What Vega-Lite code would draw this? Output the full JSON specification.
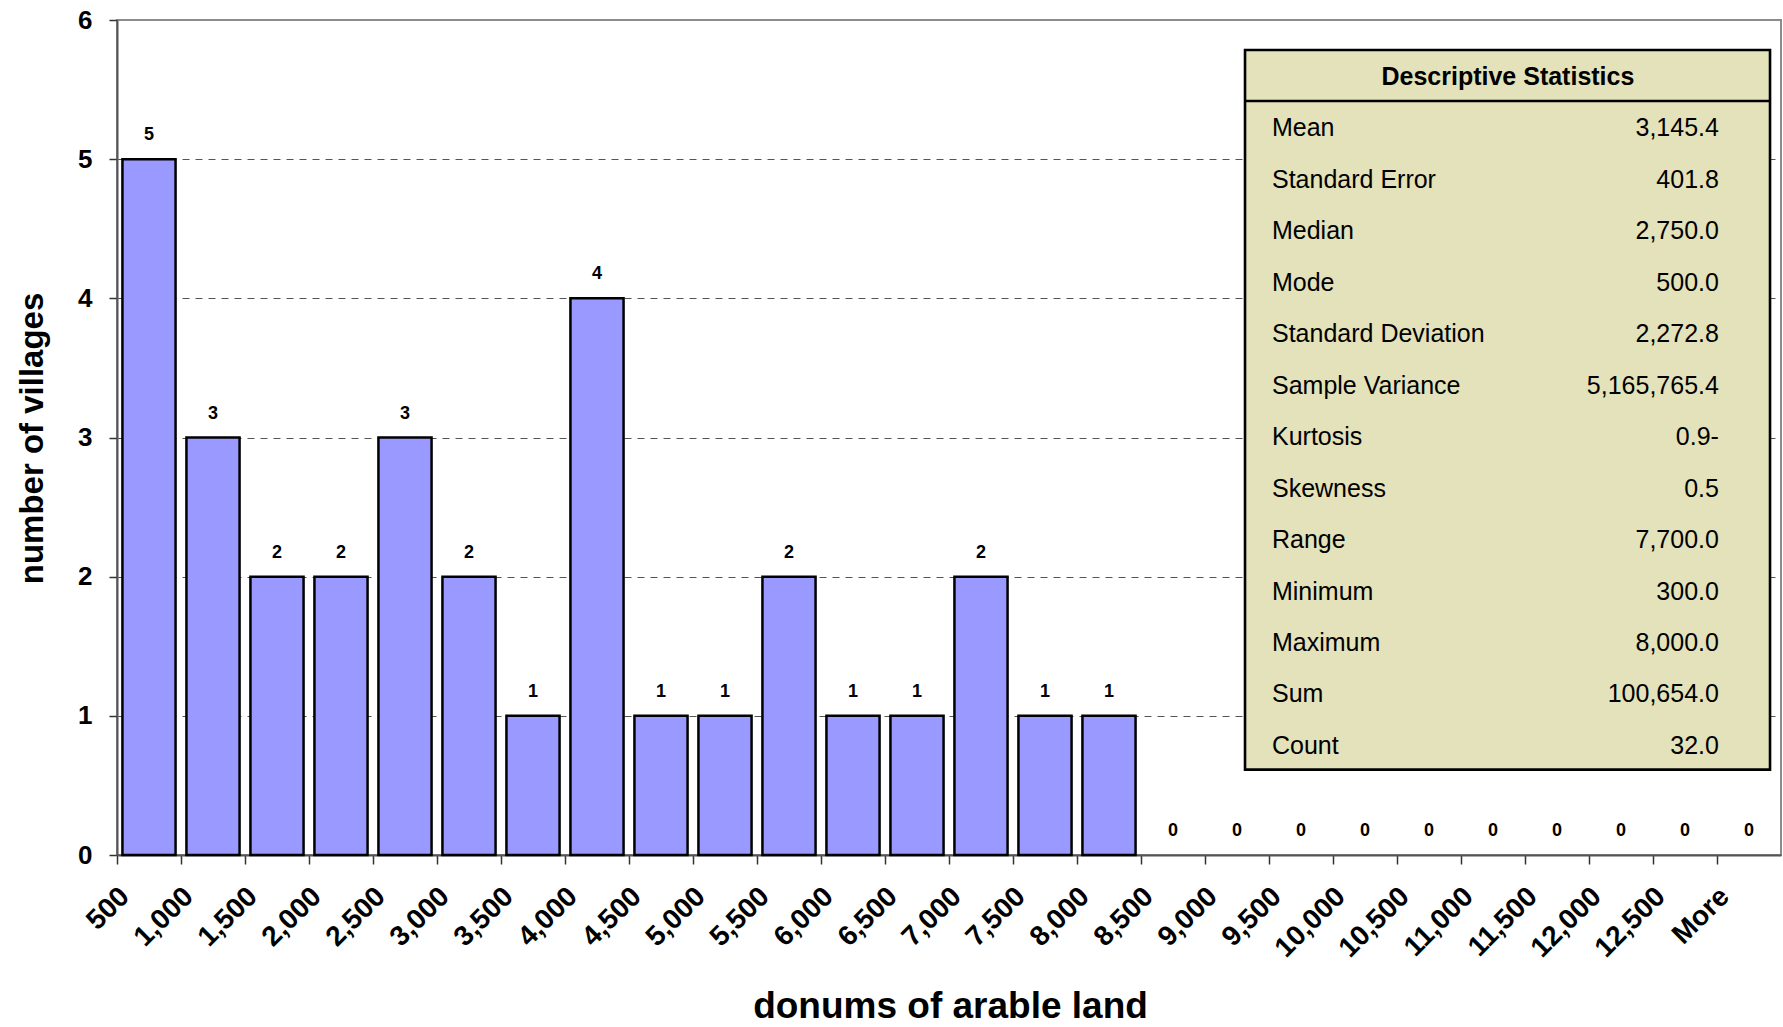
{
  "$schema": "https://vega.github.io/schema/vega-lite/v6.json",
  "width": 1664,
  "height": 835,
  "autosize": "none",
  "padding": {"left": 117, "top": 20, "right": 2, "bottom": 172},
  "background": "white",
  "config": {
    "font": "Liberation Sans",
    "view": {"stroke": "#8c8c8c", "strokeWidth": 2}
  },
  "datasets": {
    "hist": [
      {"bin": "500", "count": 5},
      {"bin": "1,000", "count": 3},
      {"bin": "1,500", "count": 2},
      {"bin": "2,000", "count": 2},
      {"bin": "2,500", "count": 3},
      {"bin": "3,000", "count": 2},
      {"bin": "3,500", "count": 1},
      {"bin": "4,000", "count": 4},
      {"bin": "4,500", "count": 1},
      {"bin": "5,000", "count": 1},
      {"bin": "5,500", "count": 2},
      {"bin": "6,000", "count": 1},
      {"bin": "6,500", "count": 1},
      {"bin": "7,000", "count": 2},
      {"bin": "7,500", "count": 1},
      {"bin": "8,000", "count": 1},
      {"bin": "8,500", "count": 0},
      {"bin": "9,000", "count": 0},
      {"bin": "9,500", "count": 0},
      {"bin": "10,000", "count": 0},
      {"bin": "10,500", "count": 0},
      {"bin": "11,000", "count": 0},
      {"bin": "11,500", "count": 0},
      {"bin": "12,000", "count": 0},
      {"bin": "12,500", "count": 0},
      {"bin": "More", "count": 0}
    ],
    "stats": [
      {"row": 1, "stat": "Mean", "value": "3,145.4"},
      {"row": 2, "stat": "Standard Error", "value": "401.8"},
      {"row": 3, "stat": "Median", "value": "2,750.0"},
      {"row": 4, "stat": "Mode", "value": "500.0"},
      {"row": 5, "stat": "Standard Deviation", "value": "2,272.8"},
      {"row": 6, "stat": "Sample Variance", "value": "5,165,765.4"},
      {"row": 7, "stat": "Kurtosis", "value": "0.9-"},
      {"row": 8, "stat": "Skewness", "value": "0.5"},
      {"row": 9, "stat": "Range", "value": "7,700.0"},
      {"row": 10, "stat": "Minimum", "value": "300.0"},
      {"row": 11, "stat": "Maximum", "value": "8,000.0"},
      {"row": 12, "stat": "Sum", "value": "100,654.0"},
      {"row": 13, "stat": "Count", "value": "32.0"}
    ]
  },
  "layer": [
    {
      "data": {"name": "hist"},
      "encoding": {
        "x": {
          "field": "bin",
          "type": "nominal",
          "sort": null,
          "scale": {"paddingInner": 0, "paddingOuter": 0},
          "axis": {
            "title": "donums of arable land",
            "titleFontSize": 37,
            "titleFontWeight": "bold",
            "titleColor": "black",
            "titleX": 833,
            "titleY": 162,
            "titleBaseline": "alphabetic",
            "titleAlign": "center",
            "labelAngle": -45,
            "labelAlign": "right",
            "labelBaseline": "middle",
            "labelFontSize": 28,
            "labelFontWeight": "bold",
            "labelColor": "black",
            "labelOffset": -24,
            "labelPadding": 28,
            "labelOverlap": false,
            "bandPosition": 0,
            "tickSize": 9,
            "tickColor": "#333333",
            "tickWidth": 1.5,
            "domainColor": "#555555",
            "domainWidth": 2,
            "grid": false
          }
        },
        "y": {
          "field": "count",
          "type": "quantitative",
          "scale": {"domain": [0, 6], "nice": false},
          "axis": {
            "title": "number of villages",
            "titleFontSize": 33,
            "titleFontWeight": "bold",
            "titleColor": "black",
            "titleAngle": -90,
            "titleX": -85,
            "titleY": 418,
            "titleBaseline": "middle",
            "titleAlign": "center",
            "values": [0, 1, 2, 3, 4, 5, 6],
            "format": "d",
            "labelFontSize": 26,
            "labelFontWeight": "bold",
            "labelColor": "black",
            "labelPadding": 17,
            "tickSize": 8,
            "tickColor": "#333333",
            "tickWidth": 1.5,
            "domainColor": "#555555",
            "domainWidth": 2,
            "grid": true,
            "gridColor": {"condition": {"test": "datum.value == 0 || datum.value == 6", "value": "rgba(0,0,0,0)"}, "value": "#555555"},
            "gridDash": [7, 6],
            "gridWidth": 1.2
          }
        }
      },
      "layer": [
        {
          "mark": {"type": "bar", "fill": "#9999ff", "stroke": "black", "width": {"band": 0.83}},
          "encoding": {
            "strokeWidth": {"condition": {"test": "datum.count > 0", "value": 2.5}, "value": 0}
          }
        },
        {
          "mark": {"type": "text", "dy": -19, "baseline": "alphabetic", "fontWeight": "bold", "fontSize": 18, "color": "black"},
          "encoding": {"text": {"field": "count", "type": "quantitative"}}
        }
      ]
    },
    {
      "layer": [
        {
          "data": {"values": [{}]},
          "mark": {"type": "rect", "fill": "#e3e2ba", "stroke": "black", "strokeWidth": 2.6},
          "encoding": {
            "x": {"datum": 0.6779, "type": "quantitative", "scale": {"domain": [0, 1], "nice": false, "zero": false}, "axis": null},
            "x2": {"datum": 0.9934},
            "y": {"datum": -0.52, "type": "quantitative", "scale": {"domain": [-1.102, 15.118], "nice": false, "zero": false, "reverse": true}, "axis": null},
            "y2": {"datum": 13.46}
          }
        },
        {
          "data": {"values": [{}]},
          "mark": {"type": "rule", "stroke": "black", "strokeWidth": 2.6},
          "encoding": {
            "x": {"datum": 0.6779, "type": "quantitative"},
            "x2": {"datum": 0.9934},
            "y": {"datum": 0.47, "type": "quantitative"}
          }
        },
        {
          "data": {"values": [{}]},
          "mark": {"type": "text", "text": "Descriptive Statistics", "fontWeight": "bold", "fontSize": 25, "align": "center", "baseline": "middle", "color": "black"},
          "encoding": {
            "x": {"datum": 0.8359, "type": "quantitative"},
            "y": {"datum": 0, "type": "quantitative"}
          }
        },
        {
          "data": {"name": "stats"},
          "mark": {"type": "text", "fontSize": 25, "align": "left", "baseline": "middle", "color": "black"},
          "encoding": {
            "x": {"datum": 0.6941, "type": "quantitative"},
            "y": {"field": "row", "type": "quantitative"},
            "text": {"field": "stat", "type": "nominal"}
          }
        },
        {
          "data": {"name": "stats"},
          "mark": {"type": "text", "fontSize": 25, "align": "right", "baseline": "middle", "color": "black"},
          "encoding": {
            "x": {"datum": 0.9627, "type": "quantitative"},
            "y": {"field": "row", "type": "quantitative"},
            "text": {"field": "value", "type": "nominal"}
          }
        }
      ]
    }
  ],
  "resolve": {"scale": {"x": "independent", "y": "independent"}}
}
